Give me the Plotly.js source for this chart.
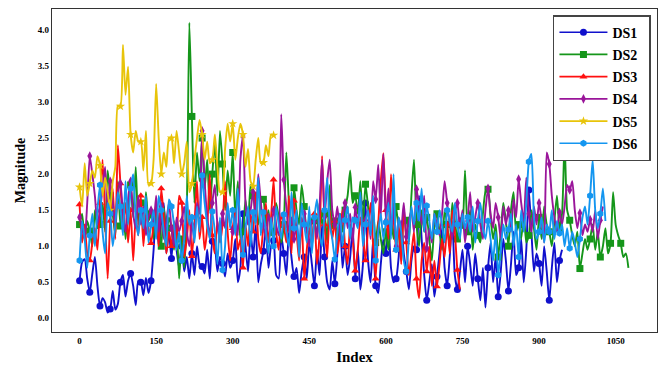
<!DOCTYPE html>
<html>
<head>
<meta charset="utf-8">
<script src="https://cdn.plot.ly/plotly-3.0.1.min.js"></script>
<style>html,body{margin:0;padding:0;background:#fff;}#chart{width:666px;height:365px;}</style>
</head>
<body>
<div id="chart"></div>
<script>
// Index step between samples and markers every 20 index units
const STEP = 5;
const MARK_EVERY = 4;

const seriesNames = ["DS1", "DS2", "DS3", "DS4", "DS5", "DS6"];

const ds1 = [
  0.52,0.78,0.82,0.55,0.36,0.62,0.85,0.45,0.17,0.28,0.22,0.08,0.13,0.38,0.12,0.2,0.5,0.6,0.3,0.52,
  0.62,0.45,0.18,0.52,0.5,0.32,0.56,0.35,0.52,0.95,1.5,1.0,1.35,1.6,0.9,1.2,0.83,1.3,0.95,0.7,
  1.0,0.65,0.85,0.55,0.9,0.6,1.0,0.75,0.72,0.62,0.95,0.55,1.07,1.0,0.65,0.85,0.76,0.58,0.9,0.7,
  0.8,1.1,0.5,0.7,1.45,1.0,0.65,1.2,0.85,1.3,0.5,0.75,0.93,1.25,0.7,1.0,1.08,0.6,0.55,1.15,
  0.9,0.6,1.2,0.85,0.58,0.7,0.35,0.65,0.85,0.55,1.05,0.75,0.45,0.95,0.6,1.3,0.85,0.5,0.4,0.8,
  0.48,0.9,1.45,0.7,1.0,0.6,0.85,1.25,0.55,0.95,0.4,0.75,1.6,0.8,0.5,1.1,0.45,0.35,0.75,1.1,
  0.9,1.3,0.7,0.5,0.55,0.85,1.35,0.9,0.65,0.4,0.8,1.0,0.95,1.7,1.1,0.6,0.25,0.5,0.75,0.3,
  0.58,0.9,1.25,0.7,0.45,0.85,1.35,0.6,0.4,0.65,0.95,0.5,1.0,0.75,0.45,0.9,0.55,0.25,0.7,0.15,
  0.7,1.05,0.5,0.85,0.3,0.65,1.1,0.8,0.38,0.75,1.2,0.6,0.7,1.1,0.5,0.95,1.78,1.2,0.65,0.9,
  0.76,0.45,1.0,0.65,0.25,0.7,1.05,0.5,0.8,0.95
];
const ds2 = [
  1.3,1.45,1.1,1.35,1.21,1.0,1.5,1.25,1.3,1.6,1.2,2.05,1.7,1.45,1.15,1.9,1.28,1.6,1.1,1.5,
  1.85,1.4,2.1,1.3,1.6,1.2,1.75,1.35,1.45,1.1,1.6,1.3,1.0,1.55,1.15,1.4,1.25,0.95,1.3,0.55,
  1.1,0.7,1.5,4.1,2.8,1.6,2.3,1.9,2.5,1.8,2.2,1.5,2.0,2.45,1.7,2.6,2.14,1.5,2.05,1.7,
  2.3,1.4,1.9,1.1,1.2,1.65,1.3,1.85,1.7,1.45,1.3,1.6,1.65,1.3,1.5,1.15,1.2,1.6,1.4,1.05,
  1.3,2.3,1.6,1.1,1.81,1.5,1.3,1.85,1.55,1.2,1.4,1.0,1.35,1.15,1.6,1.3,1.45,1.05,1.85,1.25,
  1.35,1.1,1.45,1.2,1.5,1.7,2.05,1.6,1.7,1.45,1.9,1.3,1.86,1.55,1.2,1.5,1.05,1.35,1.1,0.9,
  1.2,0.95,1.4,1.1,1.55,1.2,0.85,1.35,1.36,1.05,1.7,2.2,1.3,1.0,1.5,1.2,1.4,1.1,0.8,1.3,
  1.45,1.2,0.95,1.5,1.3,1.0,1.6,1.35,1.1,1.4,1.25,2.05,1.2,1.5,0.95,1.3,1.15,1.05,1.45,1.75,
  1.79,1.4,1.1,1.3,0.85,1.2,1.6,1.35,1.0,1.5,1.75,1.2,1.3,1.1,1.45,1.05,1.15,1.5,1.25,0.95,
  1.4,1.1,1.55,1.3,1.2,1.0,1.35,1.7,1.25,1.45,2.45,1.5,1.36,1.15,1.0,1.2,0.69,0.9,1.1,0.95,
  1.1,1.3,0.95,1.2,0.85,1.0,1.25,0.9,1.04,1.75,1.3,1.15,1.04,0.85,0.9,0.7
];
const ds3 = [
  1.58,1.05,1.3,0.9,0.8,1.05,1.25,0.95,1.6,2.2,1.4,0.55,1.35,1.8,1.1,2.4,1.87,1.3,1.6,1.05,
  1.5,0.8,1.4,1.15,1.7,1.0,1.45,1.25,1.04,1.3,1.55,1.0,1.8,1.4,0.9,1.2,1.0,1.35,1.1,1.7,
  1.6,0.85,1.1,1.5,0.86,1.3,1.9,1.1,1.4,0.95,1.25,2.0,1.15,0.9,1.35,1.05,1.3,1.9,1.2,0.8,
  1.25,1.5,0.95,1.1,0.7,1.3,1.0,1.45,1.2,1.75,1.1,0.9,1.3,1.6,1.05,1.4,1.92,1.2,0.95,1.45,
  1.3,1.05,1.7,0.9,1.63,1.2,0.8,1.4,0.55,0.95,1.25,1.05,1.45,0.75,1.15,2.25,1.3,0.85,1.5,1.1,
  1.35,0.9,1.2,1.5,1.0,0.75,1.3,1.1,0.66,0.95,1.4,1.15,0.8,1.25,1.6,1.0,0.55,1.3,1.9,2.29,
  1.5,1.1,2.0,1.4,0.95,1.3,0.75,1.55,1.05,0.6,0.9,1.2,0.55,0.28,0.8,1.05,0.65,1.0,0.45,0.8,
  0.44,0.75,1.1,0.85,1.3,0.9,1.5,1.2,0.67,0.4
];
const ds4 = [
  1.4,1.25,1.1,1.6,2.25,2.0,1.7,1.3,1.49,1.8,2.1,1.5,1.9,1.6,1.3,1.75,1.87,1.45,1.2,1.65,
  1.9,1.45,1.25,1.7,1.35,1.55,1.15,1.4,1.5,1.3,1.7,1.2,1.55,1.1,1.35,1.6,1.25,1.0,1.4,1.2,
  1.35,1.55,1.2,1.0,1.3,1.1,1.6,1.45,2.6,1.9,1.4,1.15,1.6,1.85,1.3,1.1,1.45,1.25,1.55,1.3,
  1.2,1.4,1.15,2.2,2.53,1.6,1.3,1.5,1.75,1.35,2.0,1.6,1.3,1.1,1.45,1.25,1.5,1.3,1.15,2.83,
  1.92,1.55,1.2,1.4,1.1,1.3,1.05,1.25,1.45,1.2,1.0,1.35,1.34,1.1,1.55,2.2,1.4,1.9,2.2,1.5,
  1.3,1.55,1.15,1.4,1.6,1.25,1.45,1.05,1.54,1.3,1.7,1.2,1.36,1.5,1.1,1.9,1.65,2.13,1.4,2.28,
  1.35,1.8,1.2,1.55,1.0,1.4,1.25,1.6,1.13,1.35,1.5,1.2,1.79,1.55,1.3,1.7,0.97,1.25,1.05,1.45,
  1.3,1.15,1.45,1.9,1.6,1.3,1.1,1.45,1.6,1.25,1.5,1.05,1.35,1.75,1.2,1.4,1.6,1.3,1.1,1.5,
  1.8,1.45,1.25,1.6,1.4,1.1,1.55,1.3,1.5,1.2,1.65,1.4,1.93,1.6,1.35,1.95,1.45,1.2,1.55,1.3,
  1.6,1.35,1.05,2.3,2.14,1.7,1.4,1.2,1.47,1.3,1.55,1.85,1.78,1.9,1.5,1.25,1.46,1.15,1.3,1.2,
  1.37,1.2,1.5,1.1,1.36,1.55
];
const ds5 = [
  1.82,1.55,2.15,1.7,1.87,2.05,1.95,2.25,2.12,1.7,1.95,1.75,1.5,1.9,2.1,2.95,2.94,3.79,3.1,3.49,
  2.55,2.3,2.6,2.45,2.45,2.05,2.6,1.85,1.87,2.2,3.25,2.5,2.0,2.3,2.1,2.5,2.5,2.15,2.6,2.3,
  2.0,2.15,2.45,1.75,1.87,2.2,2.5,2.75,2.55,2.2,2.45,2.15,2.2,2.55,2.1,1.75,1.75,2.35,2.7,2.45,
  2.7,2.2,2.5,2.7,2.55,2.1,2.35,1.9,1.83,2.2,2.5,2.15,2.16,2.4,2.25,2.55,2.54
];
const ds6 = [
  0.8,1.35,1.1,0.7,1.15,1.45,1.0,1.5,1.85,1.2,0.9,1.6,1.45,1.0,1.3,1.75,1.55,1.15,1.9,1.3,
  1.8,2.0,1.4,1.15,1.5,1.25,1.7,1.05,1.3,1.5,1.1,1.7,1.5,1.2,1.0,1.65,1.55,1.3,0.95,1.2,
  0.8,1.1,1.7,1.3,1.4,1.05,1.55,1.2,1.98,1.6,1.3,1.1,1.48,1.2,0.75,1.4,0.67,1.0,1.6,1.25,
  1.5,1.15,1.8,1.3,0.88,1.25,1.55,1.0,1.47,1.3,1.95,1.15,1.47,1.2,0.9,1.4,1.0,1.55,1.3,1.1,
  1.44,1.2,1.0,1.75,1.25,1.5,0.85,1.6,1.3,1.05,1.55,0.9,1.4,1.65,1.2,1.0,1.5,1.95,1.3,1.1,
  0.82,1.2,1.45,1.0,1.36,1.55,1.1,1.4,1.36,1.25,1.75,1.0,1.3,1.5,1.15,1.7,0.8,1.2,1.45,1.1,
  1.33,1.6,1.1,2.0,0.95,1.4,1.2,0.8,0.65,1.1,1.55,1.3,1.6,1.35,1.8,1.2,1.56,1.35,1.1,1.45,
  1.2,1.5,1.3,1.05,1.5,1.35,1.2,1.6,1.3,1.1,1.45,1.25,1.4,1.2,1.55,1.05,1.35,1.6,1.25,1.1,
  1.35,1.1,0.8,1.2,0.6,0.95,1.3,1.1,1.23,1.45,1.0,1.3,0.85,1.5,1.2,1.6,2.17,2.28,1.4,1.1,
  1.2,1.4,1.05,1.3,1.2,1.5,1.1,1.35,1.18,1.3,1.0,1.25,0.97,1.2,1.05,0.85,1.1,1.4,1.55,1.3,
  1.7,2.2,1.5,1.25,1.45,1.8,1.35
];

const seriesData = [ds1, ds2, ds3, ds4, ds5, ds6];
const colors = ["#1010cc", "#15961a", "#ff1010", "#9a159a", "#e8c40a", "#1496f0"];
const symbols = ["circle", "square", "triangle-up", "diamond-tall", "star", "hexagon"];

const FONT = "Liberation Serif, Times New Roman, serif";
const traces = [];
seriesData.forEach((ys, k) => {
  const xs = ys.map((_, i) => i * STEP);
  traces.push({
    x: xs, y: ys, type: "scatter", mode: "lines",
    line: {color: colors[k], width: 1.9, shape: "spline", smoothing: 0.6},
    showlegend: false, hoverinfo: "skip"
  });
  const mx = [], my = [];
  for (let i = 0; i < ys.length; i += MARK_EVERY) { mx.push(xs[i]); my.push(ys[i]); }
  traces.push({
    x: mx, y: my, type: "scatter", mode: "markers",
    marker: {color: colors[k], symbol: symbols[k], size: 7, line: {width: 0}},
    showlegend: false, hoverinfo: "skip"
  });
});
// legend entries (line + marker)
seriesNames.forEach((name, k) => {
  traces.push({
    x: [null], y: [null], type: "scatter", mode: "lines+markers",
    name: name + "&nbsp;&nbsp;", legendgroup: "g" + k,
    line: {color: colors[k], width: 1.7},
    marker: {color: colors[k], symbol: symbols[k], size: 7}
  });
});

const tickFont = {family: FONT, size: 9, color: "#000", weight: "bold"};
const layout = {
  width: 666, height: 365,
  margin: {l: 52, r: 9, t: 9, b: 33},
  paper_bgcolor: "#fff", plot_bgcolor: "#fff",
  xaxis: {
    range: [-54, 1131], tickvals: [0,150,300,450,600,750,900,1050],
    ticktext: ["0","150","300","450","600","750","900","1050"],
    showgrid: false, zeroline: false, showline: true, mirror: true,
    linecolor: "#333", linewidth: 1.2, ticks: "", tickfont: tickFont,
    title: {text: "Index", font: {family: FONT, size: 15, color: "#000", weight: "bold"}, standoff: 6}
  },
  yaxis: {
    range: [-0.19, 4.29], tickvals: [0,0.5,1,1.5,2,2.5,3,3.5,4],
    ticktext: ["0.0","0.5","1.0","1.5","2.0","2.5","3.0","3.5","4.0"],
    showgrid: false, zeroline: false, showline: true, mirror: true,
    linecolor: "#333", linewidth: 1.2, ticks: "", tickfont: tickFont,
    title: {text: "Magnitude", font: {family: FONT, size: 14, color: "#000", weight: "bold"}, standoff: 8}
  },
  legend: {
    x: 0.99, xanchor: "right", y: 0.981, yanchor: "top",
    bgcolor: "#fff", bordercolor: "#444", borderwidth: 1.5,
    font: {family: FONT, size: 14, color: "#000", weight: "bold"},
    tracegroupgap: 1, itemwidth: 48
  },
  showlegend: true
};

Plotly.newPlot("chart", traces, layout, {displayModeBar: false, staticPlot: true});
</script>
</body>
</html>
